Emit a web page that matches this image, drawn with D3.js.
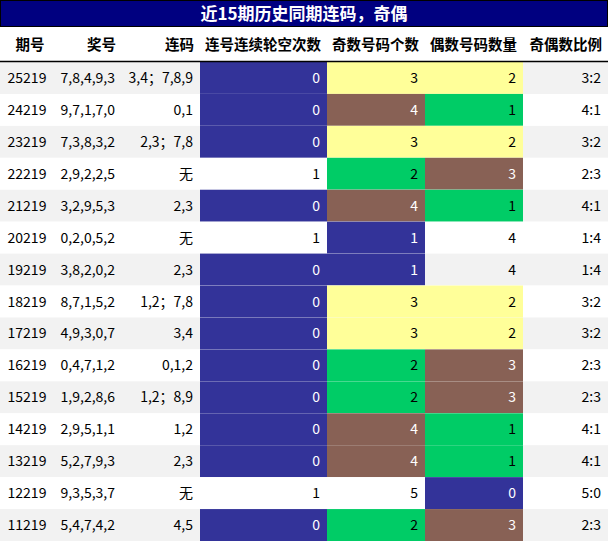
<!DOCTYPE html><html><head><meta charset="utf-8"><script src="https://d3js.org/d3.v7.min.js"></script>
<style>body{margin:0}text{font-family:"Noto Sans CJK SC","Noto Sans",sans-serif}</style></head><body><svg id="c" width="608" height="541"></svg>
<script>
const title="近15期历史同期连码，奇偶";
const headers=["期号","奖号","连码","连号连续轮空次数","奇数号码个数","偶数号码数量","奇偶数比例"];
const periods=["25219","24219","23219","22219","21219","20219","19219","18219","17219","16219","15219","14219","13219","12219","11219"];
const draws=["7,8,4,9,3","9,7,1,7,0","7,3,8,3,2","2,9,2,2,5","3,2,9,5,3","0,2,0,5,2","3,8,2,0,2","8,7,1,5,2","4,9,3,0,7","0,4,7,1,2","1,9,2,8,6","2,9,5,1,1","5,2,7,9,3","9,3,5,3,7","5,4,7,4,2"];
const runs=["3,4；7,8,9","0,1","2,3；7,8","无","2,3","无","2,3","1,2；7,8","3,4","0,1,2","1,2；8,9","1,2","2,3","无","4,5"];
const gaps=[0,0,0,1,0,1,0,0,0,0,0,0,0,1,0];
const odds=[3,4,3,2,4,1,1,3,3,2,2,4,4,5,2];
const evens=[2,1,2,3,1,4,4,2,2,3,3,1,1,0,3];
const ratios=["3:2","4:1","3:2","2:3","4:1","1:4","1:4","3:2","3:2","2:3","2:3","4:1","4:1","5:0","2:3"];
const svg=d3.select("#c");
const W=608,H=541;
const edges=[0,60,122,200,327,425,523,608];
const x=i=>edges[i];
const y=d3.scaleBand().domain(d3.range(15)).range([62,541]).padding(0);
svg.append("rect").attr("x",0.5).attr("y",0.5).attr("width",W-1).attr("height",26).attr("fill","#000080").attr("stroke","#000");
svg.append("text").attr("x",W/2).attr("y",20).attr("text-anchor","middle").attr("fill","#fff").attr("font-size",17).attr("font-weight","bold").text(title);
headers.forEach((h,i)=>svg.append("text").attr("x",i==0?30:x(i+1)-6).attr("y",50).attr("text-anchor",i==0?"middle":"end").attr("font-size",14.5).attr("font-weight","bold").text(h));
const gapC=v=>v===0?"#333399":null;
const oddC=v=>({1:"#333399",2:"#00cc66",3:"#ffff99",4:"#886155"})[v]||null;
const evenC=v=>({0:"#333399",1:"#00cc66",2:"#ffff99",3:"#886155"})[v]||null;
const txtC=c=>(c==="#333399"||c==="#886155")?"#fff":"#000";
periods.forEach((p,r)=>{
 const yy=y(r),h=y.bandwidth();
 svg.append("rect").attr("x",0).attr("y",yy).attr("width",W).attr("height",h).attr("fill",r%2==0?"#f2f2f2":"#fff");
 const cells=[[p,null],[draws[r],null],[runs[r],null],[gaps[r],gapC(gaps[r])],[odds[r],oddC(odds[r])],[evens[r],evenC(evens[r])],[ratios[r],null]];
 cells.forEach(([v,c],i)=>{
  if(c) svg.append("rect").attr("x",x(i)).attr("y",yy).attr("width",x(i+1)-x(i)).attr("height",h).attr("fill",c);
  svg.append("text").attr("x",i==0?27:x(i+1)-7).attr("y",yy+h/2+5).attr("text-anchor",i==0?"middle":"end").attr("font-size",14).attr("fill",c?txtC(c):"#000").text(v);
 });
});
svg.append("line").attr("x1",0).attr("x2",W).attr("y1",61.5).attr("y2",61.5).attr("stroke","#000").attr("stroke-width",1.5);
</script></body></html>
